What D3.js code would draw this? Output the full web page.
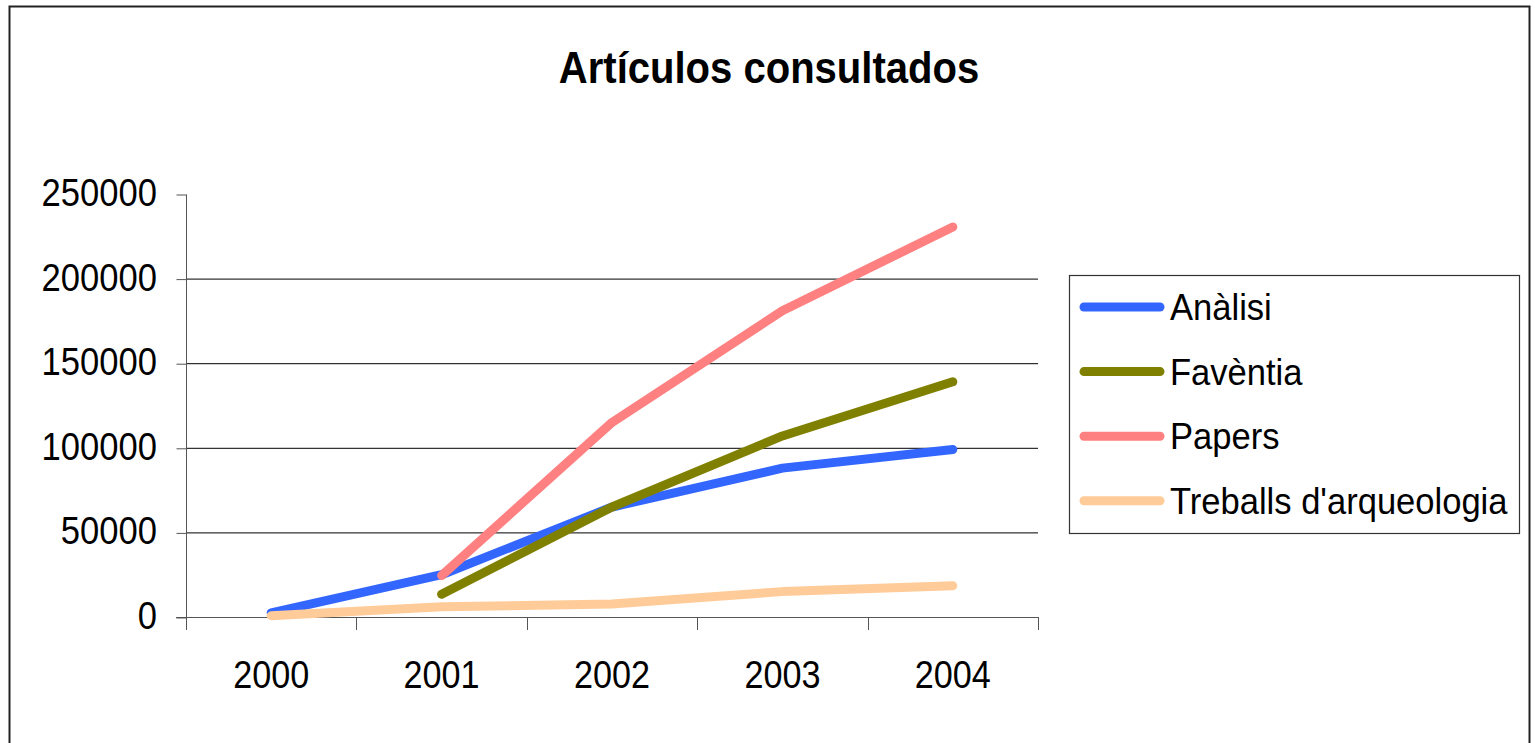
<!DOCTYPE html>
<html><head><meta charset="utf-8">
<script src="https://cdn.jsdelivr.net/npm/d3@7"></script>
<style>body{margin:0;background:#fff}svg{display:block}text{font-family:"Liberation Sans",Arial,sans-serif;fill:#000}</style>
</head><body>
<svg id="c" width="1535" height="743"></svg>
<script>
const years = ["2000","2001","2002","2003","2004"];
const yTicks = [0,50000,100000,150000,200000,250000];
const seriesNames = ["Anàlisi","Favèntia","Papers","Treballs d'arqueologia"];
const analisi  = [2500, 25000, 65000, 88000, 99000];
const faventia = [null, 13500, 65000, 107000, 139000];
const papers   = [null, 24500, 115000, 181000, 230500];
const treballs = [800, 6000, 7700, 15000, 18500];
const colors = ["#3366FF","#808000","#FF8080","#FFCC99"];
const title = "Artículos consultados";

const series = [analisi, faventia, papers, treballs];
const svg = d3.select("#c");

// outer frame
svg.append("path").attr("d","M9.5,750 V6.5 H1529.5 V750").attr("fill","none").attr("stroke","#222").attr("stroke-width",2);

const x = d3.scaleBand().domain(years).range([186,1038]).padding(0);
const y = d3.scaleLinear().domain([0,250000]).range([617,194]);

// title
svg.append("text").attr("transform","translate(769,83) scale(0.91,1)")
  .attr("text-anchor","middle").attr("font-size",44).attr("font-weight","bold").text(title);

// gridlines (not at top)
svg.append("g").selectAll("line").data(yTicks.filter(d=>d>0 && d<250000)).join("line")
  .attr("x1",186).attr("x2",1038).attr("y1",d=>y(d)+0.5).attr("y2",d=>y(d)+0.5)
  .attr("stroke","#000").attr("stroke-width",1);

// y axis
const ya = svg.append("g").attr("transform","translate(186.5,0.5)")
  .call(d3.axisLeft(y).tickValues(yTicks).tickSize(10).tickPadding(0).tickFormat(()=>""));
ya.select(".domain").attr("stroke","#555").attr("d","M0,"+y(250000)+"H0V"+y(0));
ya.selectAll(".tick line").attr("stroke","#555");
svg.append("g").selectAll("text").data(yTicks).join("text")
  .attr("transform",d=>`translate(157,${y(d)+12}) scale(0.91,1)`)
  .attr("text-anchor","end").attr("font-size",38).text(d=>d);

// x axis
const xa = svg.append("g").attr("transform","translate(0,617.5)")
  .call(d3.axisBottom(x).tickSize(0).tickFormat(()=>""));
xa.select(".domain").attr("stroke","#555").attr("d","M176,0H1038.5");
const bounds = years.map(d=>x(d)).concat([x.range()[1]]);
svg.append("g").selectAll("line").data(bounds).join("line")
  .attr("x1",d=>Math.round(d)+0.5).attr("x2",d=>Math.round(d)+0.5).attr("y1",617).attr("y2",630)
  .attr("stroke","#555");
svg.append("g").selectAll("text").data(years).join("text")
  .attr("transform",d=>`translate(${x(d)+x.bandwidth()/2},688) scale(0.9,1)`)
  .attr("text-anchor","middle").attr("font-size",38).text(d=>d);

// lines
const line = d3.line().defined(d=>d.v!=null).x(d=>x(d.k)+x.bandwidth()/2).y(d=>y(d.v));
series.forEach((s,i)=>{
  svg.append("path").datum(years.map((k,j)=>({k,v:s[j]})))
    .attr("d",line).attr("fill","none").attr("stroke",colors[i])
    .attr("stroke-width",9).attr("stroke-linecap","round").attr("stroke-linejoin","round");
});

// legend
svg.append("rect").attr("x",1069.5).attr("y",275.5).attr("width",450).attr("height",258)
  .attr("fill","#fff").attr("stroke","#333").attr("stroke-width",1.2);
const lg = svg.append("g").selectAll("g").data(seriesNames).join("g")
  .attr("transform",(d,i)=>`translate(0,${307+i*64.6})`);
lg.append("line").attr("x1",1084).attr("x2",1160).attr("y1",0).attr("y2",0)
  .attr("stroke",(d,i)=>colors[i]).attr("stroke-width",9).attr("stroke-linecap","round");
lg.append("text").attr("transform","translate(1170,13) scale(0.96,1)").attr("font-size",36).text(d=>d);
</script>
</body></html>
